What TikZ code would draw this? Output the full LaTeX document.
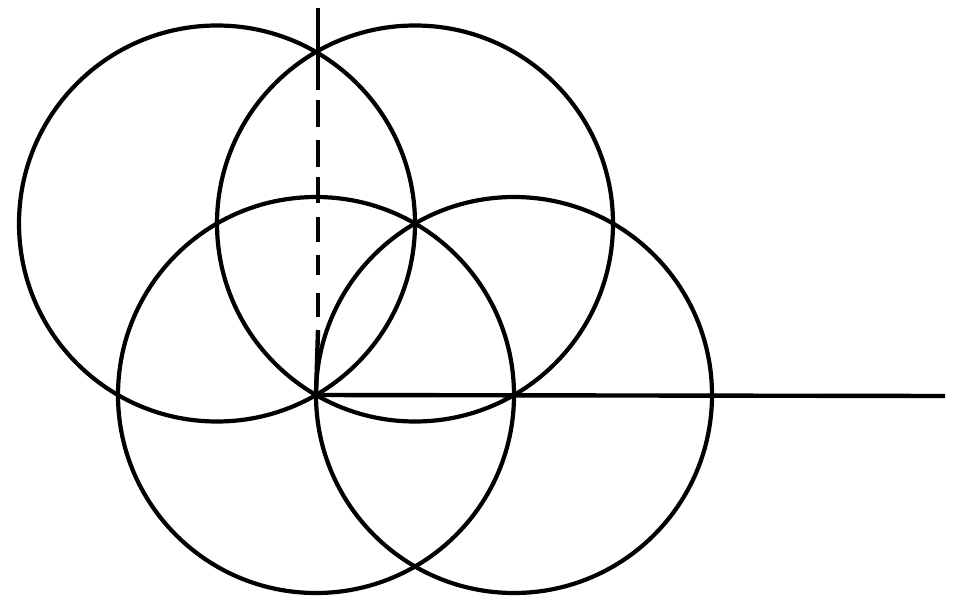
\documentclass[tikz,border=0pt]{standalone}
\begin{document}
\begin{tikzpicture}[x=1pt,y=-1pt,
  stroke/.style={line width=4.2pt,black,line cap=round},
  axis/.style={line width=4.4pt,black}]
\useasboundingbox (0,0) rectangle (960,607);
\def\R{198}
\coordinate (O) at (316,395);
\coordinate (C1) at (217,223.5);
\coordinate (C2) at (415,223.5);
\coordinate (C3) at (514,395);
\coordinate (E) at (945,396);
\coordinate (T) at (318,8);
% circles
\draw[stroke] (O) circle[radius=\R];
\draw[stroke] (C1) circle[radius=\R];
\draw[stroke] (C2) circle[radius=\R];
\draw[stroke] (C3) circle[radius=\R];
% horizontal axis
\draw[axis] (O) -- (E);
% vertical axis: solid top, dashed middle, solid bottom
\draw[axis] (T) -- (318,90);
\foreach \a/\b in {100/127,140/167,177/203,217/242,255/275,293/317}{
  \draw[axis] (318,\a) -- (318,\b);
}
\draw[axis] (318,330) -- (O);
\end{tikzpicture}
\end{document}
